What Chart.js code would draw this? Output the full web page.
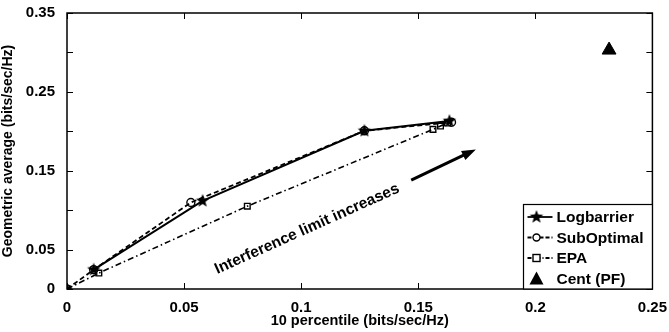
<!DOCTYPE html>
<html>
<head>
<meta charset="utf-8">
<script src="https://cdn.jsdelivr.net/npm/chart.js@4.4.0/dist/chart.umd.min.js"></script>
<style>
  html, body { margin: 0; padding: 0; background: #fff; }
  #wrap { width: 669px; height: 332px; }
</style>
</head>
<body>
<div id="wrap"><canvas id="myChart" width="669" height="332"></canvas></div>
<script>
// values
const logbarrierX = [0.0114, 0.0579, 0.127, 0.1633];
const logbarrierY = [0.0245, 0.1117, 0.2006, 0.213];
const subOptimalX = [0, 0.0114, 0.0529, 0.127, 0.1642];
const subOptimalY = [0, 0.0245, 0.1097, 0.2006, 0.2115];
const epaX = [0, 0.0136, 0.077, 0.1563, 0.1595, 0.1625];
const epaY = [0, 0.0202, 0.105, 0.2024, 0.2066, 0.2105];
const centX = [0.2315];
const centY = [0.303];
const xTicks = [0, 0.05, 0.1, 0.15, 0.2, 0.25];
const yTicks = [0, 0.05, 0.1, 0.15, 0.2, 0.25, 0.3, 0.35];
const yLabelled = [0, 0.05, 0.15, 0.25, 0.35];
const seriesNames = ['Logbarrier', 'SubOptimal', 'EPA', 'Cent (PF)'];

const FONT = '"Liberation Sans", Arial, sans-serif';

function pts(xs, ys) {
  return xs.map(function (x, i) { return { x: x, y: ys[i] }; });
}

// filled five point star for the Logbarrier markers
function makeStar(r) {
  var c = document.createElement('canvas');
  c.width = c.height = r * 2 + 2;
  var g = c.getContext('2d');
  g.translate(r + 1, r + 1);
  g.beginPath();
  for (var i = 0; i < 10; i++) {
    var rad = i % 2 === 0 ? r : r * 0.42;
    var a = -Math.PI / 2 + i * Math.PI / 5;
    g.lineTo(rad * Math.cos(a), rad * Math.sin(a));
  }
  g.closePath();
  g.fillStyle = '#000';
  g.fill();
  return c;
}
const starImg = makeStar(7);

// box, inward ticks, note, arrow, legend
const decorations = {
  id: 'decorations',
  afterDraw: function (chart) {
    var ctx = chart.ctx, a = chart.chartArea;
    var xs = chart.scales.x, ys = chart.scales.y;
    ctx.save();
    ctx.strokeStyle = '#000';
    ctx.lineWidth = 1.5;
    ctx.strokeRect(a.left, a.top, a.right - a.left, a.bottom - a.top);
    ctx.lineWidth = 1;
    xTicks.forEach(function (v) {
      var p = Math.round(xs.getPixelForValue(v)) + 0.5;
      ctx.beginPath();
      ctx.moveTo(p, a.bottom); ctx.lineTo(p, a.bottom - 6);
      ctx.moveTo(p, a.top); ctx.lineTo(p, a.top + 6);
      ctx.stroke();
    });
    yTicks.forEach(function (v) {
      var p = Math.round(ys.getPixelForValue(v)) + 0.5;
      ctx.beginPath();
      ctx.moveTo(a.left, p); ctx.lineTo(a.left + 6, p);
      ctx.moveTo(a.right, p); ctx.lineTo(a.right - 6, p);
      ctx.stroke();
    });

    // annotation text
    ctx.fillStyle = '#000';
    ctx.font = 'bold 15.5px ' + FONT;
    ctx.textAlign = 'center';
    ctx.textBaseline = 'middle';
    ctx.save();
    ctx.translate(xs.getPixelForValue(0.1025), ys.getPixelForValue(0.076));
    ctx.rotate(-24.2 * Math.PI / 180);
    ctx.fillText('Interference limit increases', 0, 0);
    ctx.restore();

    // arrow
    var x0 = xs.getPixelForValue(0.147), y0 = ys.getPixelForValue(0.138);
    var x1 = xs.getPixelForValue(0.1746), y1 = ys.getPixelForValue(0.177);
    var ang = Math.atan2(y1 - y0, x1 - x0);
    ctx.lineWidth = 3;
    ctx.beginPath();
    ctx.moveTo(x0, y0);
    ctx.lineTo(x1 - 10 * Math.cos(ang), y1 - 10 * Math.sin(ang));
    ctx.stroke();
    ctx.beginPath();
    ctx.moveTo(x1, y1);
    ctx.lineTo(x1 - 14 * Math.cos(ang) + 5 * Math.sin(ang), y1 - 14 * Math.sin(ang) - 5 * Math.cos(ang));
    ctx.lineTo(x1 - 14 * Math.cos(ang) - 5 * Math.sin(ang), y1 - 14 * Math.sin(ang) + 5 * Math.cos(ang));
    ctx.closePath();
    ctx.fill();

    // legend
    var lx = 523.5, ly = 204.5, lw = a.right - lx, lh = a.bottom - ly;
    ctx.fillStyle = '#fff';
    ctx.fillRect(lx, ly, lw, lh);
    ctx.lineWidth = 1.2;
    ctx.strokeRect(lx, ly, lw, lh);
    var dashes = [[], [4, 2], [4, 2, 1, 2], null];
    ctx.font = 'bold 15.5px ' + FONT;
    ctx.textAlign = 'left';
    for (var i = 0; i < 4; i++) {
      var cy = ly + 12.5 + i * 20.5;
      var mx = lx + 13;
      if (dashes[i]) {
        ctx.setLineDash(dashes[i]);
        ctx.lineWidth = 1.8;
        ctx.beginPath();
        ctx.moveTo(lx + 4, cy); ctx.lineTo(lx + 29, cy);
        ctx.stroke();
        ctx.setLineDash([]);
      }
      ctx.lineWidth = 1.4;
      if (i === 0) {
        ctx.drawImage(starImg, mx - starImg.width / 2, cy - starImg.height / 2);
      } else if (i === 1) {
        ctx.fillStyle = '#fff';
        ctx.beginPath(); ctx.arc(mx, cy, 3.5, 0, Math.PI * 2); ctx.fill(); ctx.stroke();
      } else if (i === 2) {
        ctx.fillStyle = '#fff';
        ctx.fillRect(mx - 3.5, cy - 3.5, 7, 7); ctx.strokeRect(mx - 3.5, cy - 3.5, 7, 7);
      } else {
        ctx.fillStyle = '#000';
        ctx.beginPath();
        ctx.moveTo(mx, cy - 7); ctx.lineTo(mx + 7, cy + 6); ctx.lineTo(mx - 7, cy + 6);
        ctx.closePath(); ctx.fill();
      }
      ctx.fillStyle = '#000';
      ctx.fillText(seriesNames[i], lx + 33, cy + 1);
    }
    ctx.restore();
  }
};

const ctx = document.getElementById('myChart').getContext('2d');
const myChart = new Chart(ctx, {
  type: 'scatter',
  data: {
    datasets: [{
      label: seriesNames[0],
      data: pts(logbarrierX, logbarrierY),
      showLine: true,
      borderColor: '#000',
      borderWidth: 2,
      pointStyle: starImg,
      order: 1
    }, {
      label: seriesNames[1],
      data: pts(subOptimalX, subOptimalY),
      showLine: true,
      borderColor: '#000',
      borderWidth: 1.8,
      borderDash: [5, 3],
      pointStyle: 'circle',
      pointRadius: 4,
      pointBorderWidth: 1.4,
      pointBackgroundColor: 'rgba(0,0,0,0)',
      pointBorderColor: '#000',
      order: 2
    }, {
      label: seriesNames[2],
      data: pts(epaX, epaY),
      showLine: true,
      borderColor: '#000',
      borderWidth: 1.6,
      borderDash: [6, 3, 1.5, 3],
      pointStyle: 'rect',
      pointRadius: 4,
      pointBorderWidth: 1.4,
      pointBackgroundColor: 'rgba(0,0,0,0)',
      pointBorderColor: '#000',
      order: 3
    }, {
      label: seriesNames[3],
      data: pts(centX, centY),
      showLine: false,
      pointStyle: 'triangle',
      pointRadius: 8,
      pointBackgroundColor: '#000',
      pointBorderColor: '#000',
      order: 4
    }]
  },
  options: {
    responsive: false,
    animation: false,
    layout: { padding: { top: 13, right: 15, left: 0, bottom: 0 } },
    plugins: {
      legend: { display: false },
      tooltip: { enabled: false }
    },
    scales: {
      x: {
        type: 'linear',
        min: 0,
        max: 0.25,
        afterFit: function (s) { s.height = 43; },
        afterBuildTicks: function (s) { s.ticks = xTicks.map(function (v) { return { value: v }; }); },
        grid: { display: false },
        border: { display: false },
        ticks: {
          color: '#000',
          padding: 2,
          font: { family: FONT, size: 15, weight: 'bold' },
          callback: function (v) { return String(v); }
        },
        title: {
          display: true,
          text: '10 percentile (bits/sec/Hz)',
          color: '#000',
          padding: { top: 0, bottom: 2 },
          font: { family: FONT, size: 14.5, weight: 'bold' }
        }
      },
      y: {
        type: 'linear',
        min: 0,
        max: 0.35,
        afterFit: function (s) { s.width = 67; },
        afterBuildTicks: function (s) { s.ticks = yTicks.map(function (v) { return { value: v }; }); },
        grid: { display: false },
        border: { display: false },
        ticks: {
          color: '#000',
          padding: 4,
          font: { family: FONT, size: 15, weight: 'bold' },
          callback: function (v) {
            return yLabelled.some(function (t) { return Math.abs(t - v) < 1e-9; }) ? String(v) : '';
          }
        },
        title: {
          display: true,
          text: 'Geometric average (bits/sec/Hz)',
          color: '#000',
          padding: { top: 0, bottom: 2 },
          font: { family: FONT, size: 14, weight: 'bold' }
        }
      }
    }
  },
  plugins: [decorations]
});
</script>
</body>
</html>
